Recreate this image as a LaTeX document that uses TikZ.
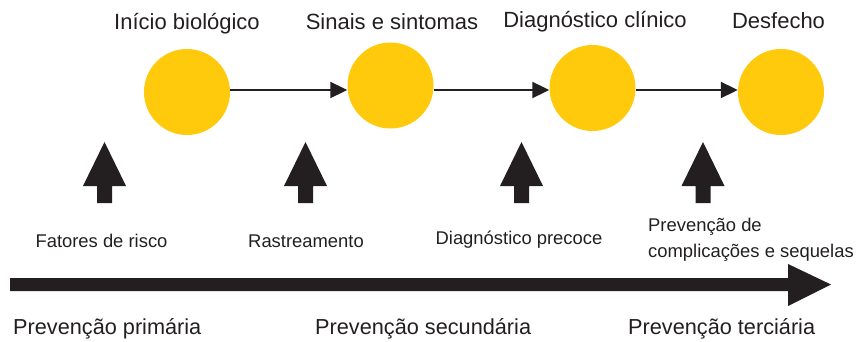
\documentclass[tikz,border=0pt]{standalone}
\usepackage{fontspec}
\setmainfont{Liberation Sans}
\usetikzlibrary{arrows.meta}
\definecolor{gold}{HTML}{FECA0B}
\definecolor{ink}{HTML}{231F20}
\begin{document}
\begin{tikzpicture}[x=1pt,y=-1pt,
  stage/.style={circle,fill=gold,minimum size=86pt,inner sep=0pt},
  toplabel/.style={anchor=base,text=ink,font=\fontsize{22}{26}\selectfont,inner sep=0pt},
  midlabel/.style={anchor=base,text=ink,font=\fontsize{18.4}{25.5}\selectfont,inner sep=0pt},
  botlabel/.style={anchor=base west,text=ink,font=\fontsize{21.7}{25}\selectfont,inner sep=0pt},
  flow/.style={draw=ink,line width=2pt,-{Triangle[length=17pt,width=16pt]}},
  fatarrow/.style={fill=ink}]
\useasboundingbox (0,0) rectangle (856,342);
% stages
\node[stage] (c1) at (187,92) {};
\node[stage] (c2) at (390.5,85.5) {};
\node[stage] (c3) at (592.5,88) {};
\node[stage] (c4) at (781,92) {};
\node[toplabel] (t1) at (187,30) {Início biológico};
\node[toplabel] (t2) at (392,30) {Sinais e sintomas};
\node[toplabel] (t3) at (595,28) {Diagnóstico clínico};
\node[toplabel] (t4) at (778.5,29) {Desfecho};
% connectors
\coordinate (a1s) at (232,90);
\draw[flow] (c1.east |- a1s) -- (c2.west |- a1s);
\draw[flow] (c2.east |- a1s) -- (c3.west |- a1s);
\draw[flow] (c3.east |- a1s) -- (c4.west |- a1s);
% fat up arrows
\foreach \cx in {104.5,305.5,521.5,703}{
  \fill[fatarrow] (\cx-7.5,203) -- (\cx-7.5,186) -- (\cx-21.5,186) -- (\cx,142)
    -- (\cx+21.5,186) -- (\cx+7.5,186) -- (\cx+7.5,203) -- cycle;
}
% middle labels
\node[midlabel] (m1) at (101.5,247) {Fatores de risco};
\node[midlabel] (m2) at (306,247) {Rastreamento};
\node[midlabel] (m3) at (519,244) {Diagnóstico precoce};
\node[midlabel,anchor=base west,align=left] (m4) at (648,257) {Prevenção de\\complicações e sequelas};
% big timeline arrow
\fill[fatarrow] (10,278) -- (788,278) -- (788,264) -- (831,284.5) -- (788,306) -- (788,291) -- (10,291) -- cycle;
% bottom labels
\node[botlabel] (b1) at (13,334) {Prevenção primária};
\node[botlabel] (b2) at (315,334) {Prevenção secundária};
\node[botlabel] (b3) at (628,334) {Prevenção terciária};
\end{tikzpicture}
\end{document}
